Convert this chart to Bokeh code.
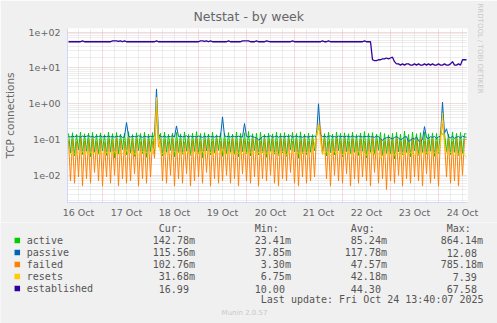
from datetime import datetime, timedelta
import math

from bokeh.plotting import figure
from bokeh.models import Range1d, FixedTicker, Grid, Title, DatetimeTickFormatter
from bokeh.layouts import column
from bokeh.embed import file_html
from bokeh.resources import INLINE
from bokeh.core.properties import value

# ---------------- data ----------------
chart_title = "Netstat - by week"
y_axis_title = "TCP connections"
side_text = "RRDTOOL / TOBI OETIKER"
footer_text = "Munin 2.0.57"
last_update = "Last update: Fri Oct 24 13:40:07 2025"

series_names = ["active", "passive", "failed", "resets", "established"]
series_colors = ["#00CC00", "#0066B3", "#FF8000", "#FFCC00", "#330099"]

day_labels = ["16 Oct", "17 Oct", "18 Oct", "19 Oct", "20 Oct",
              "21 Oct", "22 Oct", "23 Oct", "24 Oct"]
y_tick_values = [0.01, 0.1, 1.0, 10.0, 100.0]
y_tick_labels = ["1e-02", "1e-01", "1e+00", "1e+01", "1e+02"]

# hourly samples, values in milli-connections (as in the legend's "m")
active_m = [
    148, 42, 155, 35, 139, 51, 162, 38, 145, 47, 151, 33, 158, 44, 141, 39, 153, 48, 137, 36,
    160, 45, 146, 31, 157, 40, 143, 52, 150, 37, 165, 43, 138, 34, 154, 49, 147, 41, 159, 32,
    142, 46, 156, 38, 860, 90, 149, 35, 161, 44, 140, 50, 152, 33, 158, 42, 144, 39, 163, 47,
    139, 36, 151, 45, 166, 40, 147, 31, 155, 48, 143, 37, 160, 42, 136, 50, 153, 34, 149, 41,
    157, 44, 141, 38, 162, 33, 148, 46, 154, 40, 168, 35, 145, 49, 150, 37, 159, 43, 138, 32,
    152, 47, 144, 39, 161, 36, 149, 42, 156, 34, 140, 51, 158, 45, 147, 30, 164, 41, 143, 38,
    150, 44, 137, 48, 160, 210, 150, 40, 146, 35, 159, 43, 141, 37, 162, 49, 148, 33, 154, 46,
    145, 39, 160, 42, 138, 36, 152, 47, 167, 31, 149, 44, 156, 38, 143, 50, 158, 35, 147, 41,
    135, 40, 150, 29, 158, 45, 142, 37, 170, 43, 139, 33, 161, 48, 146, 36, 155, 42, 160, 39,
    144, 47, 153, 34, 148, 41, 166, 140, 150, 45, 141, 38, 163, 44, 149, 36, 157, 40, 146, 143,
]
passive_m = [
    121, 118, 124, 119, 126, 122, 117, 125, 120, 123, 128, 119, 122, 116, 124, 121, 127, 118, 123, 120,
    125, 119, 122, 117, 124, 121, 126, 115, 120, 300, 125, 118, 123, 121, 119, 127, 122, 116, 124, 120,
    118, 123, 121, 126, 2600, 140, 122, 119, 125, 117, 123, 120, 128, 118, 240, 121, 124, 119, 122, 126,
    117, 124, 120, 122, 118, 125, 121, 116, 123, 119, 126, 120, 122, 117, 124, 121, 119, 430, 127, 120,
    123, 118, 125, 121, 119, 124, 120, 117, 280, 122, 118, 125, 121, 116, 110, 98, 104, 121, 124, 119,
    122, 126, 118, 120, 125, 117, 123, 121, 119, 124, 120, 127, 118, 122, 125, 119, 121, 116, 124, 120,
    118, 123, 121, 125, 119, 1000, 140, 120, 124, 118, 122, 126, 119, 121, 117, 125, 120, 123, 118, 124,
    121, 119, 126, 120, 117, 124, 122, 118, 123, 121, 125, 119, 120, 116, 124, 122, 102, 95, 108, 112,
    118, 110, 105, 115, 120, 112, 98, 106, 117, 121, 88, 95, 110, 104, 118, 92, 86, 100, 230, 112,
    108, 120, 115, 122, 106, 118, 124, 1100, 150, 200, 119, 112, 123, 108, 117, 121, 110, 125, 118, 116,
]
failed_m = [
    95, 7, 102, 6, 88, 9, 110, 5, 92, 8, 99, 6, 105, 12, 90, 7, 97, 5, 84, 9,
    101, 6, 93, 10, 108, 5, 96, 8, 89, 6, 112, 7, 94, 11, 100, 5, 87, 8, 103, 6,
    98, 9, 91, 30, 780, 62, 104, 7, 95, 6, 88, 10, 107, 5, 92, 8, 99, 6, 86, 11,
    103, 5, 94, 7, 110, 9, 89, 6, 97, 12, 101, 5, 92, 8, 105, 6, 90, 7, 96, 10,
    88, 6, 109, 8, 93, 5, 100, 11, 95, 7, 87, 6, 104, 9, 98, 5, 91, 8, 106, 7,
    94, 10, 99, 6, 89, 5, 111, 8, 96, 7, 102, 12, 90, 6, 97, 5, 93, 9, 108, 6,
    91, 7, 100, 9, 120, 260, 220, 40, 103, 8, 88, 5, 98, 10, 106, 7, 92, 6, 99, 11,
    87, 5, 105, 8, 94, 6, 101, 9, 90, 7, 97, 5, 109, 12, 93, 6, 100, 8, 89, 4,
    102, 7, 95, 6, 108, 10, 91, 5, 99, 8, 86, 6, 104, 9, 96, 7, 110, 5, 92, 11,
    97, 6, 103, 8, 90, 5, 120, 280, 95, 9, 101, 6, 88, 7, 106, 5, 94, 10, 99, 103,
]
resets_m = [
    42, 38, 45, 40, 36, 44, 41, 47, 39, 43, 37, 46, 40, 42, 48, 38, 44, 41, 36, 45,
    40, 43, 39, 47, 42, 37, 45, 41, 38, 52, 44, 40, 46, 39, 43, 36, 42, 48, 41, 44,
    38, 45, 42, 60, 1500, 90, 43, 40, 46, 39, 44, 37, 42, 48, 41, 45, 38, 43, 40, 47,
    44, 39, 42, 46, 37, 43, 41, 48, 38, 45, 40, 44, 36, 42, 47, 39, 43, 55, 41, 38,
    45, 40, 43, 38, 46, 41, 44, 37, 50, 42, 39, 45, 40, 43, 36, 44, 41, 47, 38, 42,
    40, 46, 39, 43, 45, 38, 42, 48, 41, 37, 44, 40, 46, 39, 43, 42, 38, 45, 41, 44,
    39, 43, 47, 70, 120, 280, 90, 38, 42, 46, 40, 35, 43, 48, 39, 45, 41, 37, 44, 42,
    46, 40, 38, 44, 42, 47, 39, 43, 41, 36, 45, 40, 48, 38, 43, 41, 30, 36, 42, 39,
    44, 38, 41, 36, 45, 40, 33, 43, 39, 42, 37, 44, 40, 35, 46, 38, 41, 43, 39, 45,
    40, 42, 37, 44, 39, 46, 80, 550, 70, 41, 38, 44, 40, 36, 43, 39, 45, 41, 37, 32,
]
established = [
    54, 54, 54, 54, 54, 54, 54, 57, 54, 54, 54, 54, 54, 54, 54, 54, 54, 54, 54, 54,
    54, 54, 57, 57, 57, 55, 57, 54, 57, 54, 54, 54, 54, 54, 54, 54, 54, 54, 54, 54,
    54, 54, 54, 54, 57, 54, 54, 54, 54, 54, 54, 54, 54, 54, 54, 54, 54, 54, 54, 54,
    54, 54, 54, 54, 54, 54, 57, 57, 55, 57, 54, 57, 54, 54, 54, 54, 54, 54, 54, 54,
    57, 54, 54, 54, 54, 54, 54, 57, 57, 57, 57, 54, 54, 54, 57, 54, 54, 54, 54, 57,
    55, 54, 54, 54, 54, 54, 54, 54, 54, 54, 54, 54, 57, 54, 54, 54, 54, 54, 54, 54,
    54, 54, 54, 54, 54, 54, 54, 57, 54, 54, 57, 54, 54, 54, 54, 54, 54, 54, 54, 54,
    54, 54, 54, 54, 54, 54, 54, 54, 57, 54, 54, 54, 17, 16, 16, 17, 17, 18, 18, 19,
    18, 19, 20, 15, 13, 13, 12, 13, 12, 13, 13, 12, 12, 13, 12, 13, 12, 12, 13, 12,
    13, 12, 13, 12, 12, 13, 12, 12, 13, 12, 12, 13, 15, 12, 12, 13, 12, 17, 17, 17,
]

legend_cur = ["142.78m", "115.56m", "102.76m", "31.68m", "16.99"]
legend_min = ["23.41m", "37.85m", "3.30m", "6.75m", "10.00"]
legend_avg = ["85.24m", "117.78m", "47.57m", "42.18m", "44.30"]
legend_max = ["864.14m", "12.08", "785.18m", "7.39", "67.58"]
legend_headers = ["Cur:", "Min:", "Avg:", "Max:"]

# ---------------- helpers ----------------
EPOCH = datetime(1970, 1, 1)


def ms(dt):
    return (dt - EPOCH).total_seconds() * 1000.0


first_sample = datetime(2025, 10, 16, 7, 0)
times = [first_sample + timedelta(hours=i) for i in range(len(established))]
x_start = datetime(2025, 10, 16, 6, 30)
x_end = datetime(2025, 10, 24, 14, 30)

noon_ticks = [ms(datetime(2025, 10, 16, 12) + timedelta(days=d)) for d in range(len(day_labels))]
midnights = [ms(datetime(2025, 10, 17) + timedelta(days=d)) for d in range(8)]
six_hours = []
t = datetime(2025, 10, 16, 12)
while t < x_end:
    if t.hour != 0:
        six_hours.append(ms(t))
    t += timedelta(hours=6)

y_minor = [k * 10.0 ** e for e in range(-3, 3) for k in range(2, 10)]

values = {
    "active": [v / 1000.0 for v in active_m],
    "passive": [v / 1000.0 for v in passive_m],
    "failed": [v / 1000.0 for v in failed_m],
    "resets": [v / 1000.0 for v in resets_m],
    "established": established,
}

FONT = "DejaVu Sans"
MONO = "DejaVu Sans Mono"
TXT = "#666666"
MAJOR_GRID = "#F0B4B4"
MINOR_GRID = "#DADADA"


def no_frame_align(fig):
    if "frame_align" in fig.properties():
        fig.frame_align = False


# ---------------- main chart ----------------
FRAME_L, FRAME_R, FRAME_T, FRAME_B = 67, 467, 28, 202
H1 = 222

p = figure(width=497, height=H1, x_axis_type="datetime", y_axis_type="log",
           x_range=Range1d(x_start, x_end), y_range=Range1d(0.00174, 126.8),
           output_backend="svg", toolbar_location=None,
           min_border_left=FRAME_L, min_border_right=497 - FRAME_R,
           min_border_top=FRAME_T, min_border_bottom=H1 - FRAME_B)
p.background_fill_color = "#FFFFFF"
p.border_fill_color = "#F0F0F0"
p.outline_line_color = None
no_frame_align(p)

# y axis
ya = p.yaxis[0]
ya.ticker = FixedTicker(ticks=y_tick_values, minor_ticks=y_minor)
ya.major_label_overrides = {tv: tl for tv, tl in zip(y_tick_values, y_tick_labels)}
ya.axis_label = y_axis_title
ya.axis_label_text_font = FONT
ya.axis_label_text_font_size = "10.5px"
ya.axis_label_text_font_style = "normal"
ya.axis_label_text_color = TXT
ya.axis_label_standoff = 10
ya.major_label_text_font = FONT
ya.major_label_text_font_size = "9.5px"
ya.major_label_text_color = TXT
ya.major_label_standoff = 7
ya.major_tick_line_color = None
ya.minor_tick_line_color = None
ya.major_tick_out = 0
ya.minor_tick_out = 0
ya.axis_line_color = "#CFD6F8"

# x axis
xa = p.xaxis[0]
xa.ticker = FixedTicker(ticks=noon_ticks)
xa.formatter = DatetimeTickFormatter(days="%d %b", hours="%d %b", months="%d %b",
                                     hourmin="%d %b", minutes="%d %b")
xa.major_label_overrides = {tv: tl for tv, tl in zip(noon_ticks, day_labels)}
xa.major_label_text_font = FONT
xa.major_label_text_font_size = "9.5px"
xa.major_label_text_color = TXT
xa.major_label_standoff = 4
xa.major_tick_line_color = None
xa.minor_tick_line_color = None
xa.major_tick_out = 0
xa.minor_tick_out = 0
xa.axis_line_color = "#CFD6F8"

# grids
p.xgrid.visible = False
p.ygrid.grid_line_color = MAJOR_GRID
p.ygrid.grid_line_dash = "1 1"
p.ygrid.minor_grid_line_color = MINOR_GRID
p.ygrid.minor_grid_line_dash = "1 1"
xg = Grid(dimension=0, ticker=FixedTicker(ticks=midnights, minor_ticks=six_hours),
          grid_line_color=MAJOR_GRID, grid_line_dash="1 1",
          minor_grid_line_color=MINOR_GRID, minor_grid_line_dash="1 1")
p.add_layout(xg)

for name, col in zip(series_names, series_colors):
    lw = 1.3 if name == "established" else 1.0
    p.line(times, values[name], line_color=col, line_width=lw)

# title and side text as Title annotations
p.add_layout(Title(text=chart_title, align="left", offset=126, standoff=10,
                   text_font=FONT, text_font_size="12.5px", text_font_style="normal",
                   text_color=TXT), "above")
p.add_layout(Title(text=side_text, align="left", offset=-25, standoff=17,
                   text_font=FONT, text_font_size="7px", text_font_style="normal",
                   text_color="#C8C8C8"), "right")

# ---------------- legend area ----------------
H2 = 323 - H1
lf = figure(width=497, height=H2, x_range=Range1d(0, 497), y_range=Range1d(323, H1),
            x_axis_type=None, y_axis_type=None, output_backend="svg",
            toolbar_location=None, min_border=0, min_border_left=0, min_border_right=0,
            min_border_top=0, min_border_bottom=0)
lf.background_fill_color = "#F0F0F0"
lf.border_fill_color = "#F0F0F0"
lf.outline_line_color = None
lf.grid.visible = False
no_frame_align(lf)

CW = 6.0
X0 = 26.3


def col_x(c):
    return X0 + CW * c


row_y = [240 + 12 * r for r in range(len(series_names))]
lf.rect(x=[16.8] * len(series_names), y=row_y, width=5.5, height=5.5,
        fill_color=series_colors, line_color=None)

tx, ty, tt = [], [], []
for h, c in zip(legend_headers, [22, 38, 54, 70]):
    tx.append(col_x(c)); ty.append(228); tt.append(h)
for r, name in enumerate(series_names):
    tx.append(col_x(0)); ty.append(row_y[r]); tt.append(name)
    for vals, end in zip([legend_cur, legend_min, legend_avg, legend_max], [28, 44, 60, 76]):
        s = vals[r]
        n = len(s) if s.endswith("m") else len(s) + 1
        tx.append(col_x(end - n)); ty.append(row_y[r]); tt.append(s)
tx.append(col_x(76 - len(last_update))); ty.append(298.5); tt.append(last_update)

lf.text(x=tx, y=ty, text=tt, text_font=value(MONO), text_font_size=value("10px"),
        text_baseline="middle", text_align="left", text_color="#555555")
lf.text(x=[244], y=[312], text=[footer_text], text_font=value(FONT),
        text_font_size=value("7px"), text_baseline="middle", text_align="center",
        text_color="#C8C8C8")

layout = column(p, lf, spacing=0)
open("out.html", "w").write(file_html(layout, INLINE, title=chart_title))
